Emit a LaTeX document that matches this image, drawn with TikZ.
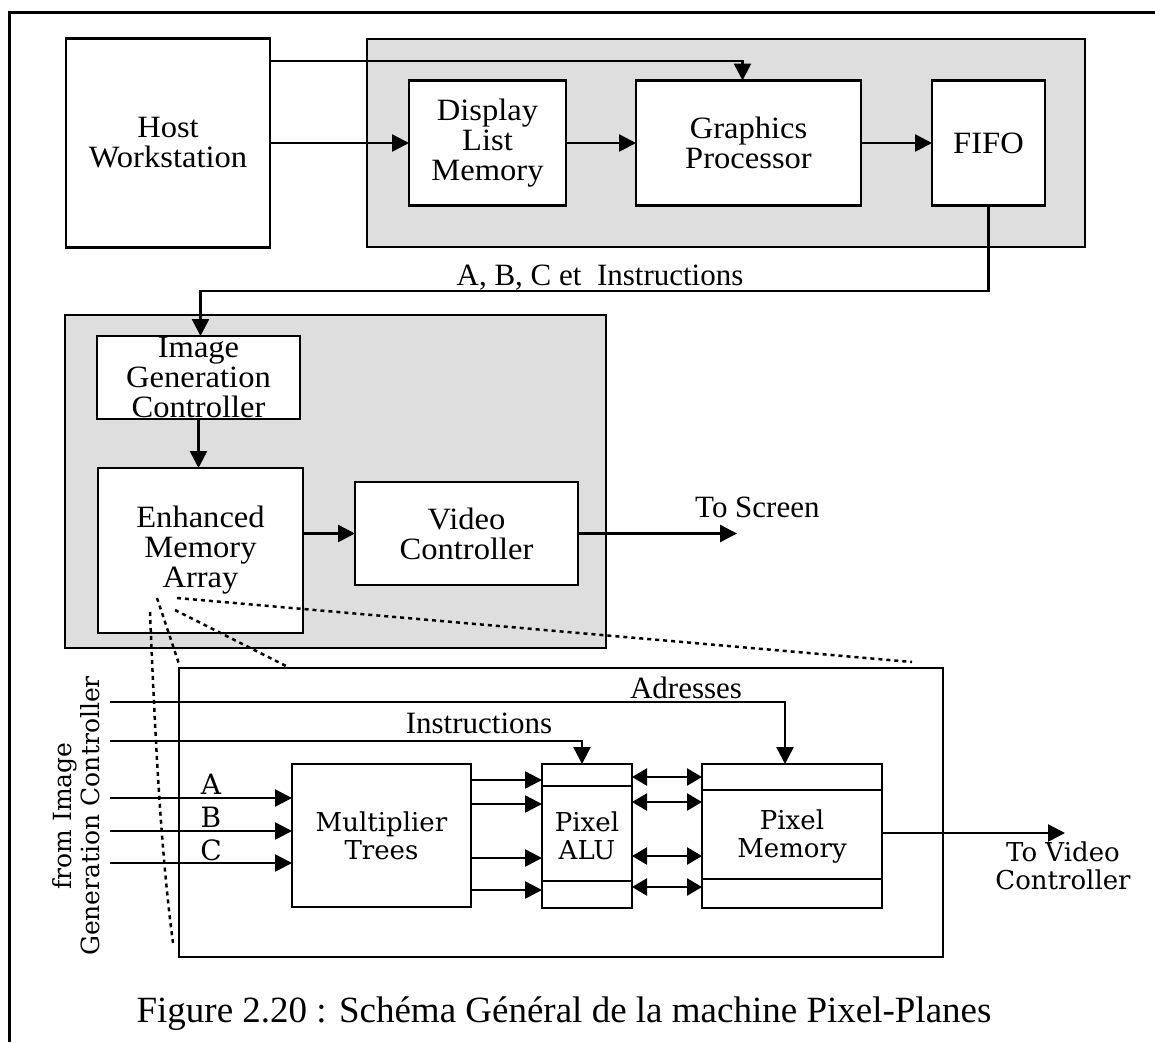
\documentclass[tikz,border=0pt]{standalone}
\usepackage{fontspec}
\setmainfont{Liberation Serif}
\newfontfamily\blockfont[FakeStretch=1.05]{Liberation Serif}
\newfontfamily\schfont{DejaVu Serif}
\usetikzlibrary{arrows.meta,calc}
\begin{document}
\begin{tikzpicture}[x=1pt,y=-1pt,
  box/.style={draw, line width=2.5pt, fill=white, inner sep=0pt, outer sep=0pt, align=center, font=\blockfont\fontsize{31}{30}\selectfont},
  sbox/.style={box, font=\schfont\fontsize{26}{28}\selectfont},
  shadebox/.style={draw, line width=2.5pt, fill=black!13, inner sep=0pt, outer sep=0pt},
  arr/.style={line width=2.5pt, -{Triangle[length=17pt,width=17pt]}},
  darr/.style={line width=2.5pt, {Triangle[length=15pt,width=17pt]}-{Triangle[length=15pt,width=17pt]}},
  ln/.style={line width=2.5pt},
  dotl/.style={line width=2.5pt, dash pattern=on 4pt off 4pt},
  lbl/.style={font=\fontsize{31}{27}\selectfont, inner sep=0pt},
  slbl/.style={font=\schfont\fontsize{26}{28}\selectfont, inner sep=0pt, align=center},
]
\useasboundingbox (0,0) rectangle (1155,1042);
% frame
\draw[line width=3pt] (1155,12) -- (9,12) -- (9,1042);

% ---- top section
\node[box, minimum width=204pt, minimum height=209pt] (host) at (168,143) {Host\\Workstation};
\node[shadebox, minimum width=718pt, minimum height=208pt] (sh1) at (726,143) {};
\node[box, minimum width=157pt, minimum height=125pt] (dlm) at (487.5,143) {Display\\List\\Memory};
\node[box, minimum width=225pt, minimum height=125pt] (gp) at (748.5,143) {Graphics\\Processor};
\node[box, minimum width=113pt, minimum height=125pt] (fifo) at (988.5,143) {FIFO};

\coordinate (t1) at (0,61);
\draw[arr] (host.east |- t1) -| ([xshift=-6pt]gp.north);
\draw[arr] (host.east) -- (dlm.west);
\draw[arr] (dlm.east) -- (gp.west);
\draw[arr] (gp.east) -- (fifo.west);

% ---- middle section
\node[shadebox, minimum width=541pt, minimum height=333pt] (sh2) at (335.5,481.5) {};
\node[box, minimum width=203pt, minimum height=83pt] (igc) at (198.5,377.5) {Image\\Generation\\Controller};
\node[box, minimum width=205pt, minimum height=165pt] (ema) at (200.5,550.5) {Enhanced\\Memory\\Array};
\node[box, minimum width=223pt, minimum height=103pt] (vc) at (466.5,533.5) {Video\\Controller};

\coordinate (t2) at (0,291);
\draw[arr] (fifo.south) -- (fifo.south |- t2) -| ([xshift=2pt]igc.north);
\node[lbl, anchor=base] (lab1) at (600,285) {A, B, C et~ Instructions};

\draw[arr] (igc.south) -- (igc.south |- ema.north);
\draw[arr] (ema.east |- vc.west) -- (vc.west);
\coordinate (scr) at (737,533.5);
\draw[arr] (vc.east) -- (scr);
\node[lbl, anchor=base west] (tos) at (695,517) {To Screen};

% ---- bottom section
\node[draw, line width=2.5pt, minimum width=764pt, minimum height=289pt, inner sep=0pt, outer sep=0pt] (pp) at (561,812.5) {};
\node[sbox, minimum width=179pt, minimum height=143pt] (mt) at (381.5,835.5) {Multiplier\\Trees};
\node[sbox, minimum width=90pt, minimum height=144pt] (alu) at (587,836) {Pixel\\ALU};
\node[sbox, minimum width=180pt, minimum height=144pt] (pm) at (792,836) {Pixel\\Memory};

\draw[ln] ($(alu.north west)+(0,22)$) -- ($(alu.north east)+(0,22)$);
\draw[ln] ($(alu.south west)+(0,-27)$) -- ($(alu.south east)+(0,-27)$);
\draw[ln] ($(pm.north west)+(0,26)$) -- ($(pm.north east)+(0,26)$);
\draw[ln] ($(pm.south west)+(0,-29)$) -- ($(pm.south east)+(0,-29)$);

\foreach \d in {16,40,94,126}
  \draw[arr] ($(mt.north east)+(0,\d)$) -- ($(alu.north west)+(0,\d)$);
\foreach \d in {13,38,92,123}
  \draw[darr] ($(alu.north east)+(0,\d)$) -- ($(pm.north west)+(0,\d)$);

\coordinate (inAd) at (110,702);
\coordinate (inIn) at (110,741);
\coordinate (inA) at (110,798);
\coordinate (inB) at (110,831);
\coordinate (inC) at (110,863);
\draw[arr] (inAd) -| ([xshift=-7pt]pm.north);
\draw[arr] (inIn) -| ([xshift=-5pt]alu.north);
\draw[arr] (inA) -- (inA -| mt.west);
\draw[arr] (inB) -- (inB -| mt.west);
\draw[arr] (inC) -- (inC -| mt.west);
\node[lbl, anchor=base] (ladr) at (686,698) {Adresses};
\node[lbl, anchor=base] (lins) at (479,733) {Instructions};
\node[slbl, font=\schfont\fontsize{28}{28}\selectfont, anchor=base] (la) at (211,794) {A};
\node[slbl, font=\schfont\fontsize{28}{28}\selectfont, anchor=base] (lb) at (211,827) {B};
\node[slbl, font=\schfont\fontsize{28}{28}\selectfont, anchor=base] (lc) at (211,860) {C};

\coordinate (vout) at (1065,833);
\draw[arr] (pm.east |- vout) -- (vout);
\node[slbl] (tvc) at (1063,866) {To Video\\Controller};

\node[slbl, rotate=90, font=\schfont\fontsize{25}{28}\selectfont] (fig) at (76,816) {from Image\\Generation Controller};

% dotted zoom lines
\coordinate (d1a) at (157,598); \coordinate (d1b) at (179,664);
\coordinate (d2a) at (150,612); \coordinate (d2b) at (173,943);
\coordinate (d3a) at (175,610); \coordinate (d3b) at (288,667);
\coordinate (d4a) at (177,598); \coordinate (d4b) at (912,662);
\draw[dotl] (d1a) -- (d1b);
\draw[dotl] (d2a) .. controls (156,760) and (162,860) .. (d2b);
\draw[dotl] (d3a) -- (d3b);
\draw[dotl] (d4a) -- (d4b);

% caption
\node[font=\fontsize{37}{40}\selectfont, anchor=base, inner sep=0pt] (cap) at (564,1022) {Figure 2.20 : Schéma Général de la machine Pixel-Planes};
\end{tikzpicture}
\end{document}
